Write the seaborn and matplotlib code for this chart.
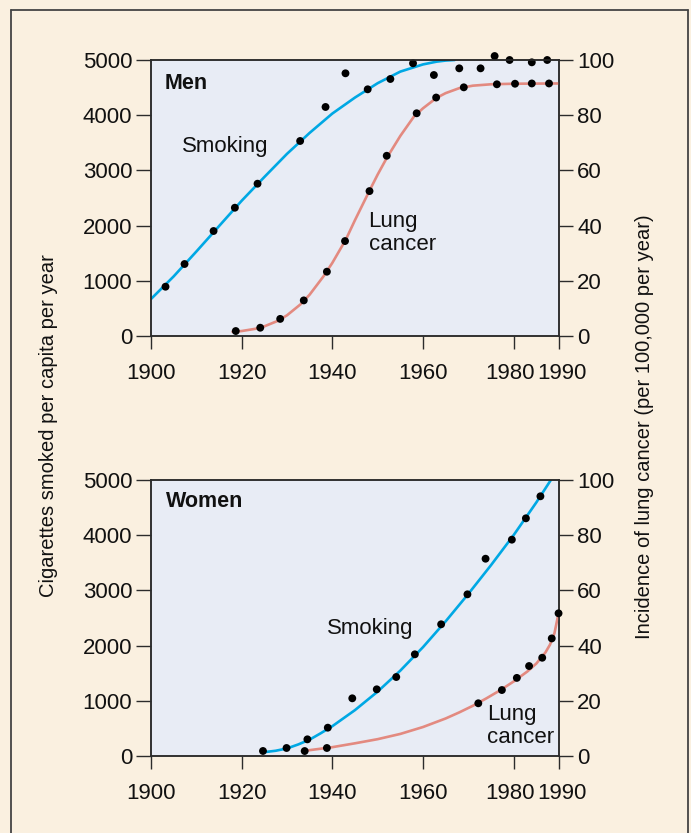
import matplotlib
matplotlib.use("Agg")
import matplotlib.pyplot as plt
from matplotlib.lines import Line2D
from matplotlib.transforms import ScaledTranslation
import seaborn as sns

# ---- Observed data (dots) ----
men_smoke_years = [1903.2, 1907.4, 1913.8, 1918.5, 1923.5, 1932.9, 1938.5, 1942.9,
                   1947.8, 1952.8, 1957.8, 1962.4, 1968.0, 1972.7, 1975.8, 1979.1,
                   1984.0, 1987.4]
men_smoke_values = [893, 1304, 1902, 2324, 2759, 3533, 4149, 4759,
                    4469, 4656, 4940, 4728, 4849, 4849, 5072, 5000,
                    4958, 5000]

men_lung_years = [1918.7, 1924.1, 1928.5, 1933.7, 1938.8, 1942.8, 1948.2, 1952.0,
                  1958.6, 1962.9, 1969.0, 1976.3, 1980.3, 1984.0, 1987.8]
men_lung_values = [1.8, 3.0, 6.2, 12.9, 23.3, 34.4, 52.5, 65.3,
                   80.7, 86.4, 90.1, 91.2, 91.4, 91.5, 91.5]

women_smoke_years = [1924.7, 1929.9, 1934.5, 1939.0, 1944.4, 1949.8, 1954.1, 1958.2,
                     1964.0, 1969.8, 1973.8, 1979.6, 1982.7, 1985.9]
women_smoke_values = [91, 145, 302, 513, 1045, 1208, 1431, 1842,
                      2386, 2929, 3574, 3919, 4306, 4705]

women_lung_years = [1933.9, 1938.8, 1972.2, 1977.4, 1980.7, 1983.4, 1986.3, 1988.4, 1989.9]
women_lung_values = [1.8, 2.9, 19.1, 23.9, 28.3, 32.6, 35.6, 42.6, 51.7]

# ---- Trend curves ----
men_smoke_curve_years = [1900, 1905, 1910, 1915, 1920, 1925, 1930, 1935, 1940, 1945,
                         1950, 1955, 1960, 1963, 1965, 1967]
men_smoke_curve_values = [670, 1080, 1530, 1990, 2450, 2880, 3300, 3680, 4030, 4320,
                          4580, 4790, 4920, 4970, 4990, 5000]

men_lung_curve_years = [1918, 1920, 1923, 1925, 1928, 1930, 1933, 1935, 1938, 1940,
                        1943, 1945, 1948, 1950, 1952, 1955, 1958, 1960, 1963, 1965,
                        1968, 1971, 1975, 1980, 1990]
men_lung_curve_values = [1.5, 1.8, 2.6, 3.5, 5.5, 7.5, 11.5, 15.0, 21.5, 26.5,
                         35.0, 42.0, 52.0, 58.5, 64.5, 72.5, 79.5, 82.5, 86.3, 88.0,
                         89.8, 90.7, 91.2, 91.4, 91.5]

women_smoke_curve_years = [1925, 1927.5, 1930, 1932.5, 1935, 1937.5, 1940, 1945, 1950,
                           1955, 1960, 1965, 1970, 1975, 1980, 1985, 1988.2]
women_smoke_curve_values = [70, 95, 137, 210, 297, 415, 540, 832, 1167,
                            1547, 1972, 2440, 2937, 3457, 4002, 4594, 5000]

women_lung_curve_years = [1934, 1940, 1945, 1950, 1955, 1960, 1965, 1968, 1971, 1974,
                          1977, 1980, 1983, 1985, 1987, 1988, 1989, 1990]
women_lung_curve_values = [1.9, 3.2, 4.6, 6.1, 8.0, 10.5, 13.6, 15.8, 18.2, 20.9,
                           23.8, 27.0, 30.6, 33.5, 37.5, 40.3, 44.5, 52.5]

x_ticks = [1900, 1920, 1940, 1960, 1980, 1990]
left_ticks = [0, 1000, 2000, 3000, 4000, 5000]
right_ticks = [0, 20, 40, 60, 80, 100]

BLUE = "#00A8E4"
RED = "#E38A80"
CREAM = "#FAF0E0"
PANEL = "#E8ECF5"
INK = "#2b2b2b"

sns.set_theme(style="ticks")
plt.rcParams["font.family"] = ["Liberation Sans", "DejaVu Sans"]
FS_TICK = 16
FS_TEXT = 16
FS_LABEL = 14.5

fig = plt.figure(figsize=(6.91, 8.33), dpi=100, facecolor=CREAM)

# outer frame (open at the bottom)
for xs, ys in (([11 / 691, 11 / 691], [-0.05, 1 - 10 / 833]),
               ([688 / 691, 688 / 691], [-0.05, 1 - 10 / 833]),
               ([11 / 691, 688 / 691], [1 - 10 / 833, 1 - 10 / 833])):
    fig.add_artist(Line2D(xs, ys, transform=fig.transFigure, color="#444444", lw=1.3))

ax_left = 151 / 691
ax_width = (559 - 151) / 691
ax_height = 276 / 833

# small horizontal nudges (inches) so the two crowded year labels do not collide
label_nudge = {"1980": -0.04, "1990": 0.03}


def style_axis(ax, twin):
    ax.set_facecolor(PANEL)
    ax.set_xlim(1900, 1990)
    ax.set_ylim(0, 5000)
    twin.set_ylim(0, 100)
    ax.set_xticks(x_ticks)
    ax.set_xticklabels([str(t) for t in x_ticks])
    ax.set_yticks(left_ticks)
    twin.set_yticks(right_ticks)
    for a in (ax, twin):
        for s in a.spines.values():
            s.set_color(INK)
            s.set_linewidth(1.1)
    ax.tick_params(axis="y", direction="out", length=10.5, width=1.0, color=INK,
                   labelsize=FS_TICK, pad=3, labelcolor="#111111")
    ax.tick_params(axis="x", direction="out", length=9.5, width=1.0, color=INK,
                   labelsize=FS_TICK, pad=10, labelcolor="#111111")
    twin.tick_params(axis="y", direction="out", length=10, width=1.0, color=INK,
                     labelsize=FS_TICK, pad=3, labelcolor="#111111")
    for lbl in ax.get_xticklabels():
        shift = label_nudge.get(lbl.get_text())
        if shift:
            lbl.set_transform(lbl.get_transform()
                              + ScaledTranslation(shift, 0, fig.dpi_scale_trans))
    ax.set_xlabel("")
    ax.set_ylabel("")
    twin.set_ylabel("")
    twin.patch.set_visible(False)


def draw_panel(bottom_px, title, sm_cx, sm_cy, sm_dx, sm_dy, lc_cx, lc_cy, lc_dx, lc_dy,
               title_xy, smoke_lbl_xy, lung_lbl_xy):
    ax = fig.add_axes([ax_left, 1 - bottom_px / 833, ax_width, ax_height])
    twin = ax.twinx()
    sns.lineplot(x=sm_cx, y=sm_cy, ax=ax, color=BLUE, lw=1.9, sort=False)
    sns.lineplot(x=lc_cx, y=lc_cy, ax=twin, color=RED, lw=1.9, sort=False)
    sns.scatterplot(x=sm_dx, y=sm_dy, ax=ax, color="black", s=32, edgecolor="none",
                    clip_on=False, zorder=5)
    sns.scatterplot(x=lc_dx, y=lc_dy, ax=twin, color="black", s=32, edgecolor="none",
                    clip_on=False, zorder=5)
    style_axis(ax, twin)
    ax.text(title_xy[0], title_xy[1], title, fontsize=FS_TEXT - 0.5, fontweight="bold",
            va="center", ha="left", color="#111111")
    ax.text(smoke_lbl_xy[0], smoke_lbl_xy[1], "Smoking", fontsize=FS_TEXT, va="center",
            ha="left", color="#111111")
    ax.text(lung_lbl_xy[0], lung_lbl_xy[1], "Lung\ncancer", fontsize=FS_TEXT, va="center",
            ha="left", color="#111111", linespacing=1.1)
    return ax, twin


draw_panel(336, "Men",
           men_smoke_curve_years, men_smoke_curve_values,
           men_smoke_years, men_smoke_values,
           men_lung_curve_years, men_lung_curve_values,
           men_lung_years, men_lung_values,
           (1903.1, 4583), (1906.8, 3442), (1948.0, 1866))

draw_panel(756, "Women",
           women_smoke_curve_years, women_smoke_curve_values,
           women_smoke_years, women_smoke_values,
           women_lung_curve_years, women_lung_curve_values,
           women_lung_years, women_lung_values,
           (1903.3, 4607), (1938.8, 2313), (1974.1, 543))

fig.text(48 / 691, 1 - 425.5 / 833, "Cigarettes smoked per capita per year",
         rotation=90, va="center", ha="center", fontsize=FS_LABEL, color="#111111")
fig.text(645 / 691, 1 - 426.5 / 833, "Incidence of lung cancer (per 100,000 per year)",
         rotation=90, va="center", ha="center", fontsize=FS_LABEL, color="#111111")

fig.savefig("out.png", dpi=100, facecolor=CREAM)
